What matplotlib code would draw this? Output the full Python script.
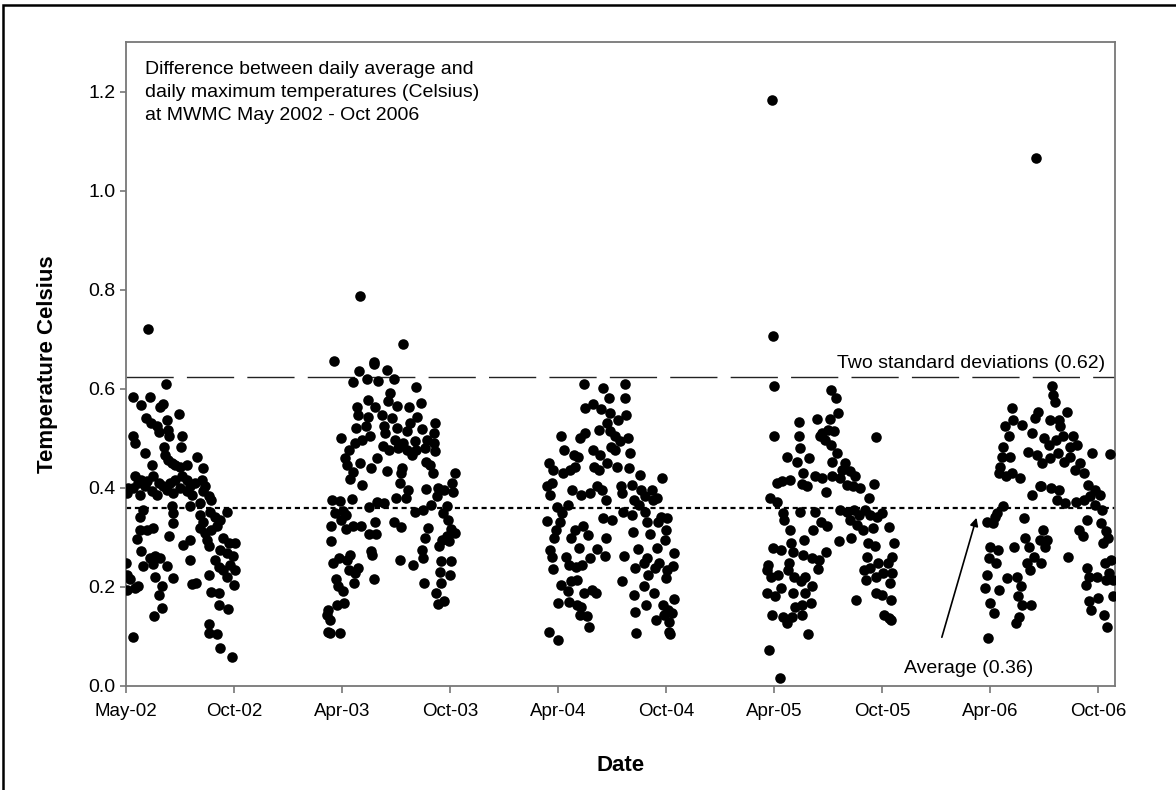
import matplotlib
matplotlib.use("Agg")
import matplotlib.pyplot as plt
import matplotlib.dates as mdates
import matplotlib.patches as patches
import numpy as np
import pandas as pd

plt.rcParams['font.family'] = ['Liberation Sans', 'DejaVu Sans']

# (days after Jan 1 of the year, difference in Celsius)
s2002 = [(187,.609),(131,.583),(145,.568),(161,.583),(178,.564),(183,.570),(209,.550),(189,.537),(154,.542),(162,.531),
         (173,.525),(176,.512),(191,.517),(193,.504),(132,.504),(135,.490),(214,.504),(213,.482),(152,.470),(184,.482),
         (186,.467),(239,.462),(163,.447),(190,.457),(197,.450),(203,.447),(211,.443),(222,.447),(250,.441),(136,.423),
         (124,.399),(121,.389),(141,.410),(146,.416),(155,.413),(166,.423),(175,.410),(183,.403),(194,.410),(203,.416),
         (214,.423),(222,.416),(228,.403),(236,.410),(248,.416),(253,.403),(132,.399),(144,.386),(152,.403),(163,.393),
         (172,.386),(189,.396),(200,.389),(211,.399),(222,.393),(231,.386),(250,.393),(259,.383),(228,.363),(245,.369),
         (264,.376),(149,.356),(144,.342),(197,.363),(200,.349),(245,.346),(250,.332),(262,.352),(270,.342),(278,.336),
         (290,.352),(143,.315),(155,.315),(166,.319),(200,.329),(245,.319),(253,.309),(264,.315),(273,.322),(138,.296),
         (193,.302),(228,.295),(216,.285),(256,.295),(259,.282),(284,.299),(293,.289),(304,.289),(278,.275),(290,.268),
         (301,.262),(146,.272),(161,.258),(169,.262),(177,.258),(189,.243),(120,.249),(148,.243),(165,.247),(228,.255),
         (270,.255),(276,.241),(284,.235),(295,.245),(304,.235),(290,.221),(122,.225),(127,.216),(121,.194),(135,.198),
         (141,.201),(169,.220),(180,.201),(175,.184),(200,.218),(232,.206),(238,.208),(259,.225),(302,.204),(263,.189),
         (276,.187),(180,.157),(167,.142),(277,.164),(291,.155),(132,.098),(260,.126),(259,.107),(273,.105),(278,.077),
         (298,.058),(157,.721)]

s2003 = [(221,.690),(106,.657),(172,.655),(173,.649),(147,.635),(161,.620),(180,.616),(194,.637),(206,.620),(137,.614),
         (200,.592),(244,.604),(162,.577),(144,.563),(146,.548),(175,.563),(197,.575),(211,.565),(231,.563),(252,.571),
         (163,.544),(186,.548),(203,.541),(212,.521),(189,.524),(160,.524),(143,.521),(234,.531),(245,.544),(228,.514),
         (253,.518),(275,.530),(117,.501),(141,.491),(152,.497),(166,.504),(192,.511),(208,.497),(222,.491),(242,.494),
         (262,.497),(273,.511),(274,.491),(130,.477),(188,.484),(198,.477),(214,.481),(229,.477),(243,.477),(259,.481),
         (276,.474),(124,.460),(127,.447),(149,.450),(177,.460),(167,.440),(195,.433),(220,.440),(219,.430),(236,.467),
         (261,.452),(267,.447),(272,.430),(309,.430),(137,.432),(133,.417),(153,.406),(217,.410),(230,.396),(227,.380),
         (209,.380),(260,.398),(281,.400),(290,.396),(304,.410),(305,.391),(279,.383),(135,.377),(102,.376),(116,.373),
         (164,.361),(178,.371),(190,.369),(268,.366),(256,.356),(241,.351),(295,.363),(289,.349),(107,.349),(121,.353),
         (126,.346),(118,.336),(101,.322),(125,.316),(138,.322),(151,.322),(174,.332),(165,.306),(176,.306),(207,.332),
         (218,.321),(264,.319),(258,.299),(298,.336),(303,.316),(310,.309),(296,.302),(287,.295),(282,.282),(299,.292),
         (100,.292),(132,.265),(128,.255),(168,.272),(169,.265),(254,.275),(255,.258),(113,.258),(104,.248),(216,.255),
         (238,.245),(286,.252),(302,.252),(284,.231),(301,.225),(131,.235),(145,.238),(140,.228),(173,.215),(139,.207),
         (108,.215),(112,.201),(120,.191),(257,.207),(285,.208),(277,.188),(280,.166),(291,.171),(122,.168),(110,.164),
         (96,.154),(93,.144),(99,.134),(95,.110),(98,.107),(115,.107),(150,.788)]

s2004 = [(161,.609),(194,.601),(204,.581),(230,.609),(231,.581),(232,.547),(163,.562),(176,.570),(190,.560),(205,.551),
         (218,.537),(201,.531),(123,.504),(155,.500),(164,.510),(187,.517),(206,.514),(214,.505),(236,.500),(222,.494),
         (127,.477),(144,.467),(152,.463),(177,.477),(189,.467),(213,.477),(239,.470),(207,.483),(102,.450),(110,.436),
         (126,.430),(138,.436),(146,.443),(178,.443),(186,.436),(200,.450),(217,.443),(237,.440),(293,.420),(256,.426),
         (99,.403),(107,.409),(104,.386),(141,.396),(156,.386),(172,.389),(183,.403),(191,.396),(223,.403),(225,.389),
         (242,.406),(257,.396),(264,.383),(276,.396),(199,.376),(245,.376),(255,.366),(278,.376),(284,.379),(116,.362),
         (135,.366),(124,.349),(228,.352),(243,.346),(265,.352),(292,.342),(301,.339),(287,.332),(100,.333),(121,.332),
         (193,.339),(208,.335),(267,.332),(147,.315),(160,.322),(169,.305),(140,.298),(244,.311),(272,.306),(300,.315),
         (198,.298),(115,.315),(111,.298),(153,.278),(184,.276),(171,.258),(197,.263),(229,.263),(253,.276),(268,.258),
         (285,.278),(298,.295),(105,.275),(108,.261),(109,.236),(132,.261),(136,.244),(148,.241),(158,.244),(248,.238),
         (262,.248),(270,.224),(281,.238),(288,.248),(302,.234),(299,.218),(122,.204),(139,.211),(149,.214),(226,.211),
         (263,.201),(279,.187),(294,.164),(303,.154),(134,.191),(161,.187),(175,.194),(182,.187),(117,.167),(137,.170),
         (150,.164),(157,.160),(246,.184),(266,.164),(247,.150),(154,.144),(167,.142),(170,.120),(283,.133),(296,.144),
         (304,.130),(103,.109),(118,.093),(249,.107),(305,.110),(313,.176),(309,.147),(313,.269),(312,.243),(306,.105)]

s2005 = [(112,1.182),(114,.707),(115,.606),(212,.598),(220,.582),(223,.551),(210,.539),(207,.517),(196,.510),(193,.504),
         (202,.497),(216,.514),(188,.539),(157,.532),(158,.505),(116,.505),(288,.502),(159,.480),(137,.463),(154,.453),
         (174,.460),(211,.487),(221,.470),(213,.453),(235,.450),(230,.436),(244,.433),(252,.423),(165,.430),(185,.423),
         (197,.420),(214,.423),(227,.420),(238,.406),(249,.403),(261,.399),(275,.379),(120,.409),(129,.413),(143,.415),
         (162,.408),(171,.403),(203,.391),(284,.408),(109,.379),(121,.372),(226,.356),(239,.352),(250,.356),(258,.346),
         (269,.356),(278,.346),(289,.342),(243,.335),(255,.325),(266,.315),(283,.319),(297,.350),(130,.349),(132,.335),
         (160,.352),(184,.352),(195,.332),(205,.322),(182,.315),(142,.315),(310,.321),(166,.294),(225,.292),(245,.298),
         (274,.288),(286,.282),(272,.261),(317,.288),(314,.261),(290,.248),(308,.248),(277,.238),(114,.278),(128,.275),
         (144,.288),(148,.271),(164,.265),(179,.258),(192,.255),(204,.271),(190,.236),(106,.245),(103,.234),(111,.221),
         (123,.224),(141,.248),(140,.234),(149,.221),(161,.211),(168,.221),(180,.201),(267,.234),(270,.214),(288,.221),
         (300,.228),(315,.228),(311,.208),(287,.187),(298,.184),(312,.174),(104,.187),(118,.181),(127,.197),(147,.187),
         (167,.187),(178,.167),(151,.160),(163,.164),(254,.174),(112,.144),(131,.140),(146,.140),(162,.144),(138,.127),
         (301,.144),(309,.137),(313,.133),(173,.105),(107,.073),(126,.016)]

s2006 = [(192,1.066),(219,.605),(221,.588),(224,.574),(151,.562),(154,.537),(140,.524),(168,.527),(196,.554),(191,.541),
         (216,.537),(230,.537),(244,.554),(233,.524),(146,.504),(137,.483),(134,.463),(148,.463),(132,.443),(185,.510),
         (205,.500),(213,.487),(225,.497),(238,.504),(255,.504),(250,.483),(261,.487),(179,.473),(193,.467),(202,.450),
         (215,.460),(229,.470),(239,.453),(249,.463),(266,.450),(258,.436),(272,.430),(286,.470),(317,.468),(129,.430),
         (141,.423),(152,.430),(165,.420),(201,.403),(217,.399),(231,.396),(186,.386),(199,.403),(280,.406),(292,.396),
         (283,.383),(300,.386),(227,.376),(241,.369),(260,.372),(273,.376),(291,.366),(303,.356),(136,.364),(126,.349),
         (109,.332),(120,.329),(123,.342),(171,.339),(278,.335),(264,.315),(271,.302),(301,.329),(309,.312),(304,.288),
         (314,.298),(203,.315),(210,.295),(198,.295),(207,.281),(155,.281),(174,.298),(180,.281),(188,.261),(177,.248),
         (200,.248),(182,.234),(245,.261),(115,.281),(112,.258),(110,.224),(106,.197),(114,.167),(121,.147),(128,.275),
         (124,.248),(130,.194),(143,.218),(160,.221),(166,.201),(162,.181),(169,.164),(183,.164),(159,.127),(164,.140),
         (277,.238),(281,.221),(276,.204),(295,.221),(308,.248),(318,.255),(315,.228),(322,.214),(310,.214),(282,.171),
         (284,.154),(297,.177),(307,.144),(311,.120),(321,.181),(111,.096)]

seasons = {2002: s2002, 2003: s2003, 2004: s2004, 2005: s2005, 2006: s2006}

average = 0.36
two_sd = 0.624
tick_start = pd.Timestamp('2002-05-01')
tick_step = 182   # days between axis labels
x_end = pd.Timestamp('2006-11-22')

fig = plt.figure(figsize=(11.76, 7.9), dpi=100)
ax = fig.add_axes([126/1176, 1 - 686/790, 989/1176, 644/790])

for year, pts in seasons.items():
    days, vals = zip(*pts)
    dates = pd.Timestamp(f'{year}-01-01') + pd.to_timedelta(np.array(days), unit='D')
    ax.plot(dates, vals, 'o', color='black', ms=7.6, mew=0, zorder=3)

# reference lines
ax.axhline(two_sd, color='#222222', lw=1.0, dashes=(34, 9.5), zorder=2)
ax.axhline(average, color='black', lw=1.6, dashes=(2.3, 1.7), zorder=2)

ax.text(pd.Timestamp('2006-11-06'), 0.642, 'Two standard deviations (0.62)',
        ha='right', va='baseline', fontsize=14)
ax.text(pd.Timestamp('2005-12-02'), 0.036, 'Average (0.36)', ha='left', va='center', fontsize=14)
ax.annotate('', xy=(pd.Timestamp('2006-04-04'), 0.345), xytext=(pd.Timestamp('2006-02-02'), 0.093),
            arrowprops=dict(arrowstyle='-|>', color='black', lw=1.2, mutation_scale=12))

ax.text(0.019, 0.970, 'Difference between daily average and\ndaily maximum temperatures (Celsius)\nat MWMC May 2002 - Oct 2006',
        transform=ax.transAxes, ha='left', va='top', fontsize=14, linespacing=1.45)

# axes
ax.set_ylim(0, 1.3)
ax.set_yticks(np.arange(0, 1.21, 0.2))
ax.yaxis.set_major_formatter(plt.FormatStrFormatter('%.1f'))
ax.set_xlim(tick_start, x_end)
ax.set_xticks(tick_start + pd.to_timedelta(np.arange(10) * tick_step, unit='D'))
ax.xaxis.set_major_formatter(mdates.DateFormatter('%b-%y'))

for s in ax.spines.values():
    s.set_color('#777777')
    s.set_linewidth(1.3)
ax.tick_params(axis='y', direction='out', length=4.5, width=1.2, color='#777777', pad=3, labelsize=14)
ax.tick_params(axis='x', direction='out', length=5, width=1.2, color='#777777', pad=7, labelsize=13.5)

ax.set_xlabel('Date', fontsize=16, fontweight='bold')
ax.set_ylabel('Temperature Celsius', fontsize=16, fontweight='bold')
ax.xaxis.set_label_coords(0.5, -0.107)
ax.yaxis.set_label_coords(-0.069, 0.5)

# outer frame of the figure page
fig.patches.append(patches.Rectangle((3/1176, -0.1), 1.2, 1 - 5/790 + 0.1, transform=fig.transFigure,
                                     fill=False, edgecolor='black', lw=1.8))

fig.savefig('out.png', dpi=100)
